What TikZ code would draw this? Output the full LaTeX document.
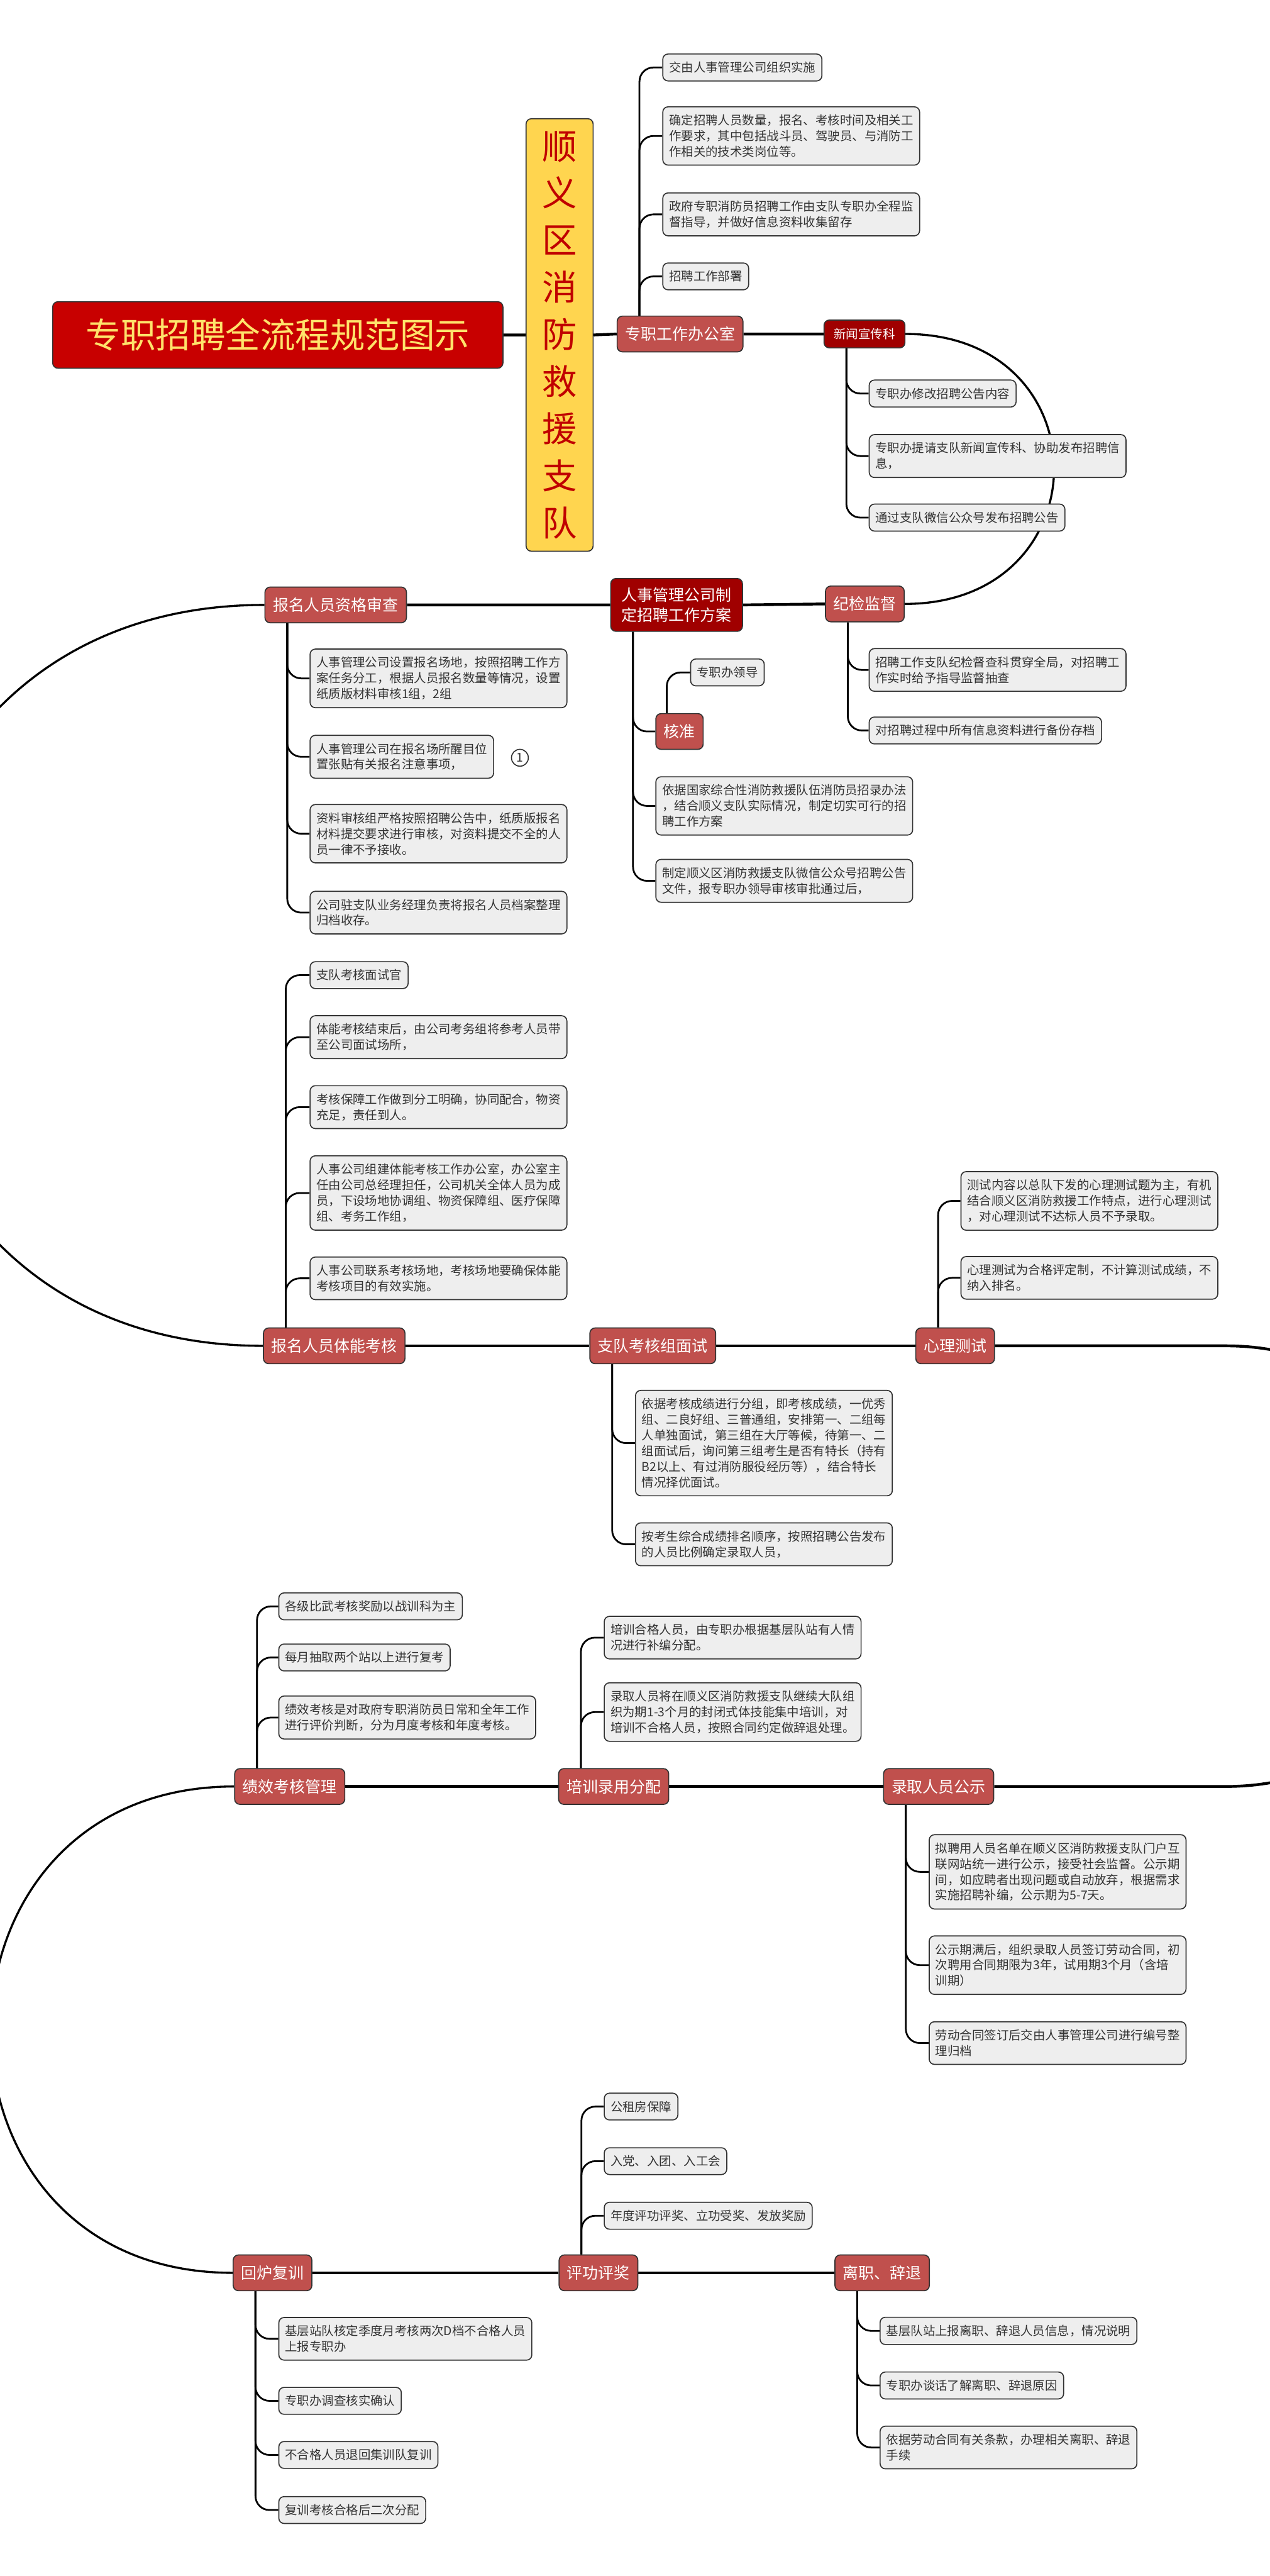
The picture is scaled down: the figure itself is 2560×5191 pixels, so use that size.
\documentclass[tikz,border=0pt]{standalone}
\usepackage{fontspec}
\setmainfont{Noto Sans CJK SC}
\usepackage{xcolor}
\usepackage{tikz}
\usetikzlibrary{backgrounds}
\definecolor{midred}{HTML}{C0504D}
\definecolor{darkred}{HTML}{A00000}
\definecolor{titlered}{HTML}{C80000}
\definecolor{titlegold}{HTML}{FFE36B}
\definecolor{barfill}{HTML}{FFD54F}
\definecolor{bartext}{HTML}{C00000}
\definecolor{leaffill}{HTML}{EEEEEE}
\definecolor{ink}{HTML}{333333}
\tikzset{
  spine/.style={draw=black, line width=1.6pt},
  bow/.style={draw=black, line width=1.2pt},
  twig/.style={draw=black, line width=1pt, rounded corners=8pt},
  leaf/.style={draw=ink, fill=leaffill, text=ink, line width=0.6pt, rounded corners=3pt,
    font=\fontsize{7}{9}\selectfont, align=left, inner xsep=3.6pt, inner ysep=4.45pt, anchor=west},
  hub/.style={draw=ink, fill=midred, text=white, line width=0.6pt, rounded corners=3pt,
    font=\fontsize{9}{11.7}\selectfont, align=center, inner xsep=0.16cm, minimum height=0.72cm, anchor=west},
  hubd/.style={hub, fill=darkred},
  ttl/.style={draw=ink, fill=titlered, text=titlegold, line width=0.6pt, rounded corners=3pt,
    font=\fontsize{20}{24}\selectfont, minimum width=9.07cm, minimum height=1.34cm},
  vbar/.style={draw=ink, fill=barfill, text=bartext, line width=0.6pt, rounded corners=3pt,
    font=\fontsize{20}{27}\selectfont, align=center, minimum width=1.35cm, minimum height=8.71cm},
  badge/.style={draw=ink, circle, line width=0.6pt, inner sep=0pt, minimum size=0.34cm, text=ink,
    font=\fontsize{7}{8}\selectfont},
}

\begin{document}
\begin{tikzpicture}[x=0.01cm, y=-0.01cm]
  \useasboundingbox (0,0) rectangle (2560,5191);

  \node[ttl] (ttl) at (560,675) {专职招聘全流程规范图示};
  \node[vbar] (bar) at (1128,675) {顺\\义\\区\\消\\防\\救\\援\\支\\队};

  % hubs
  \node[hub] (zz) at (1243,673) {专职工作办公室};
  \node[hubd, font=\fontsize{7}{9}\selectfont, minimum height=0.56cm, inner xsep=0.2cm] (xw) at (1660,673) {新闻宣传科};
  \node[hub] (jj) at (1663,1217) {纪检监督};
  \node[hubd, inner xsep=0.22cm, inner ysep=0.18cm] (rs) at (1230,1219) {人事管理公司制\\定招聘工作方案};
  \node[hub] (bm) at (533,1219) {报名人员资格审查};
  \node[hub] (hz) at (1321,1474) {核准};
  \node[hub] (tn) at (530,2712) {报名人员体能考核};
  \node[hub] (zd) at (1188,2712) {支队考核组面试};
  \node[hub] (xl) at (1845,2712) {心理测试};
  \node[hub] (lq) at (1780,3600) {录取人员公示};
  \node[hub] (px) at (1125,3600) {培训录用分配};
  \node[hub] (jx) at (472,3600) {绩效考核管理};
  \node[hub] (hl) at (469,4580) {回炉复训};
  \node[hub] (pg) at (1126,4580) {评功评奖};
  \node[hub] (lz) at (1682,4580) {离职、辞退};
  \coordinate (rt) at (2470,2712);
  \coordinate (rb) at (2470,3600);

  % leaves
  \node[leaf] (z1) at (1335,136) {交由人事管理公司组织实施};
  \node[leaf] (z2) at (1335,274) {确定招聘人员数量，报名、考核时间及相关工\\作要求，其中包括战斗员、驾驶员、与消防工\\作相关的技术类岗位等。};
  \node[leaf] (z3) at (1335,432) {政府专职消防员招聘工作由支队专职办全程监\\督指导，并做好信息资料收集留存};
  \node[leaf] (z4) at (1335,557) {招聘工作部署};

  \node[leaf] (x1) at (1751,793) {专职办修改招聘公告内容};
  \node[leaf] (x2) at (1751,919) {专职办提请支队新闻宣传科、协助发布招聘信\\息，};
  \node[leaf] (x3) at (1751,1043) {通过支队微信公众号发布招聘公告};

  \node[leaf] (j1) at (1751,1350) {招聘工作支队纪检督查科贯穿全局，对招聘工\\作实时给予指导监督抽查};
  \node[leaf] (j2) at (1751,1472) {对招聘过程中所有信息资料进行备份存档};

  \node[leaf] (zl) at (1391,1355) {专职办领导};
  \node[leaf] (r1) at (1321,1624) {依据国家综合性消防救援队伍消防员招录办法\\，结合顺义支队实际情况，制定切实可行的招\\聘工作方案};
  \node[leaf] (r2) at (1321,1775) {制定顺义区消防救援支队微信公众号招聘公告\\文件，报专职办领导审核审批通过后，};

  \node[leaf] (b1) at (624,1367) {人事管理公司设置报名场地，按照招聘工作方\\案任务分工，根据人员报名数量等情况，设置\\纸质版材料审核1组，2组};
  \node[leaf] (b2) at (624,1525) {人事管理公司在报名场所醒目位\\置张贴有关报名注意事项，};
  \node[badge] (n1) at (1048,1527) {1};
  \node[leaf] (b3) at (624,1680) {资料审核组严格按照招聘公告中，纸质版报名\\材料提交要求进行审核，对资料提交不全的人\\员一律不予接收。};
  \node[leaf] (b4) at (624,1839) {公司驻支队业务经理负责将报名人员档案整理\\归档收存。};

  \node[leaf] (t1) at (624,1965) {支队考核面试官};
  \node[leaf] (t2) at (624,2090) {体能考核结束后，由公司考务组将参考人员带\\至公司面试场所，};
  \node[leaf] (t3) at (624,2231) {考核保障工作做到分工明确，协同配合，物资\\充足，责任到人。};
  \node[leaf] (t4) at (624,2404) {人事公司组建体能考核工作办公室，办公室主\\任由公司总经理担任，公司机关全体人员为成\\员，下设场地协调组、物资保障组、医疗保障\\组、考务工作组，};
  \node[leaf] (t5) at (624,2576) {人事公司联系考核场地，考核场地要确保体能\\考核项目的有效实施。};

  \node[leaf] (d1) at (1280,2908) {依据考核成绩进行分组，即考核成绩，一优秀\\组、二良好组、三普通组，安排第一、二组每\\人单独面试，第三组在大厅等候，待第一、二\\组面试后，询问第三组考生是否有特长（持有\\B2以上、有过消防服役经历等），结合特长\\情况择优面试。};
  \node[leaf] (d2) at (1280,3112) {按考生综合成绩排名顺序，按照招聘公告发布\\的人员比例确定录取人员，};

  \node[leaf] (s1) at (1936,2420) {测试内容以总队下发的心理测试题为主，有机\\结合顺义区消防救援工作特点，进行心理测试\\，对心理测试不达标人员不予录取。};
  \node[leaf] (s2) at (1936,2575) {心理测试为合格评定制，不计算测试成绩，不\\纳入排名。};

  \node[leaf] (q1) at (1872,3772) {拟聘用人员名单在顺义区消防救援支队门户互\\联网站统一进行公示，接受社会监督。公示期\\间，如应聘者出现问题或自动放弃，根据需求\\实施招聘补编，公示期为5-7天。};
  \node[leaf] (q2) at (1872,3960) {公示期满后，组织录取人员签订劳动合同，初\\次聘用合同期限为3年，试用期3个月（含培\\训期）};
  \node[leaf] (q3) at (1872,4117) {劳动合同签订后交由人事管理公司进行编号整\\理归档};

  \node[leaf] (p1) at (1217,3300) {培训合格人员，由专职办根据基层队站有人情\\况进行补编分配。};
  \node[leaf] (p2) at (1217,3450) {录取人员将在顺义区消防救援支队继续大队组\\织为期1-3个月的封闭式体技能集中培训，对\\培训不合格人员，按照合同约定做辞退处理。};

  \node[leaf] (g1) at (561,3237) {各级比武考核奖励以战训科为主};
  \node[leaf] (g2) at (561,3340) {每月抽取两个站以上进行复考};
  \node[leaf] (g3) at (561,3461) {绩效考核是对政府专职消防员日常和全年工作\\进行评价判断，分为月度考核和年度考核。};

  \node[leaf] (h1) at (561,4713) {基层站队核定季度月考核两次D档不合格人员\\上报专职办};
  \node[leaf] (h2) at (561,4838) {专职办调查核实确认};
  \node[leaf] (h3) at (561,4947) {不合格人员退回集训队复训};
  \node[leaf] (h4) at (561,5058) {复训考核合格后二次分配};

  \node[leaf] (e1) at (1217,4245) {公租房保障};
  \node[leaf] (e2) at (1217,4355) {入党、入团、入工会};
  \node[leaf] (e3) at (1217,4465) {年度评功评奖、立功受奖、发放奖励};

  \node[leaf] (l1) at (1773,4697) {基层队站上报离职、辞退人员信息，情况说明};
  \node[leaf] (l2) at (1773,4807) {专职办谈话了解离职、辞退原因};
  \node[leaf] (l3) at (1773,4932) {依据劳动合同有关条款，办理相关离职、辞退\\手续};

  \begin{scope}[on background layer]
    \clip (0,0) rectangle (2560,5191);
    % spine
    \draw[spine] (ttl.east) -- (bar.west) (bar.east) -- (zz.west) (zz.east) -- (xw.west);
    \draw[bow] (xw.east) to[out=0,in=0,looseness=1.88] (jj.east);
    \draw[spine] (jj.west) -- (rs.east) (rs.west) -- (bm.east);
    \draw[bow] (bm.west) to[out=180,in=180,looseness=1.7] (tn.west);
    \draw[spine] (tn.east) -- (zd.west) (zd.east) -- (xl.west);
    \draw[spine] (xl.east) -- (rt) to[out=0,in=0,looseness=1.7] (rb) -- (lq.east);
    \draw[spine] (lq.west) -- (px.east) (px.west) -- (jx.east);
    \draw[bow] (jx.west) to[out=180,in=180,looseness=1.7] (hl.west);
    \draw[spine] (hl.east) -- (pg.west) (pg.east) -- (lz.west);

    % twigs
    \foreach \k in {z1,z2,z3,z4} \draw[twig] (zz.north west) ++(46,0) |- (\k.west);
    \foreach \k in {x1,x2,x3} \draw[twig] (xw.south west) ++(46,0) |- (\k.west);
    \foreach \k in {j1,j2} \draw[twig] (jj.south west) ++(46,0) |- (\k.west);
    \foreach \k in {hz,r1,r2} \draw[twig] (rs.south west) ++(46,0) |- (\k.west);
    \draw[twig] (hz.north west) ++(23,0) |- (zl.west);
    \foreach \k in {b1,b2,b3,b4} \draw[twig] (bm.south west) ++(46,0) |- (\k.west);
    \foreach \k in {t1,t2,t3,t4,t5} \draw[twig] (tn.north west) ++(46,0) |- (\k.west);
    \foreach \k in {d1,d2} \draw[twig] (zd.south west) ++(46,0) |- (\k.west);
    \foreach \k in {s1,s2} \draw[twig] (xl.north west) ++(46,0) |- (\k.west);
    \foreach \k in {q1,q2,q3} \draw[twig] (lq.south west) ++(46,0) |- (\k.west);
    \foreach \k in {p1,p2} \draw[twig] (px.north west) ++(46,0) |- (\k.west);
    \foreach \k in {g1,g2,g3} \draw[twig] (jx.north west) ++(46,0) |- (\k.west);
    \foreach \k in {h1,h2,h3,h4} \draw[twig] (hl.south west) ++(46,0) |- (\k.west);
    \foreach \k in {e1,e2,e3} \draw[twig] (pg.north west) ++(46,0) |- (\k.west);
    \foreach \k in {l1,l2,l3} \draw[twig] (lz.south west) ++(46,0) |- (\k.west);
  \end{scope}
\end{tikzpicture}
\end{document}
